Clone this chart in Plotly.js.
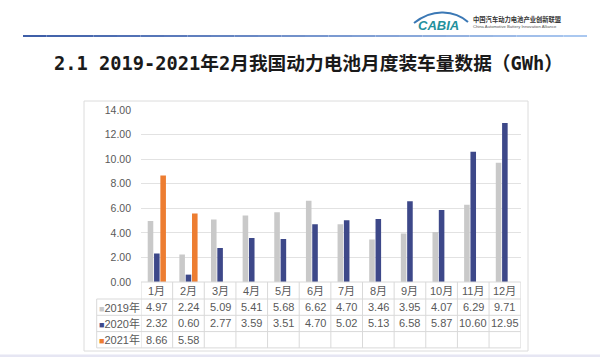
<!DOCTYPE html>
<html><head><meta charset="utf-8">
<script src="https://cdn.plot.ly/plotly-3.0.1.min.js"></script>
<style>html,body{margin:0;padding:0;background:#fff}#c{width:600px;height:357px}</style>
</head><body><div id="c"></div>
<script>
// ---- data ----
const months = ['1月','2月','3月','4月','5月','6月','7月','8月','9月','10月','11月','12月'];
const years = ['2019年','2020年','2021年'];
const v2019 = [4.97, 2.24, 5.09, 5.41, 5.68, 6.62, 4.70, 3.46, 3.95, 4.07, 6.29, 9.71];
const v2020 = [2.32, 0.60, 2.77, 3.59, 3.51, 4.70, 5.02, 5.13, 6.58, 5.87, 10.60, 12.95];
const v2021 = [8.66, 5.58, null, null, null, null, null, null, null, null, null, null];
const yTicks = [0, 2, 4, 6, 8, 10, 12, 14];
const titleText = '2.1 2019-2021年2月我国动力电池月度装车量数据（GWh）';

// ---- styling ----
const colors = ['#C9C9C9', '#3D4889', '#ED7D31'];
const W = 600, H = 357;
const px = x => x / W, py = y => 1 - y / H;
const fontTxt = 'Liberation Sans, Arial, Noto Sans CJK SC, sans-serif';
const grey = '#595959';
const gridCol = '#d9d9d9';
const series = [v2019, v2020, v2021];

const traces = series.map((v, i) => ({
  type: 'bar', x: months, y: v, name: years[i],
  marker: {color: colors[i]}, hoverinfo: 'skip'
}));

const shapes = [];
const annotations = [];

// ---- data table under the axis (drawn with shapes + annotations) ----
const tblLeft = 96.7, tblRight = 520.7, axisY = 282, headBot = 299, rowH = 16.3;
const rowLines = [headBot, headBot + rowH, headBot + 2 * rowH, headBot + 3 * rowH];
shapes.push({type: 'line', xref: 'paper', yref: 'paper', x0: px(141), x1: px(tblRight), y0: py(axisY), y1: py(axisY),
  line: {color: gridCol, width: 1}});
rowLines.forEach(y => shapes.push({type: 'line', xref: 'paper', yref: 'paper', x0: px(tblLeft), x1: px(tblRight),
  y0: py(y), y1: py(y), line: {color: gridCol, width: 1}}));
shapes.push({type: 'line', xref: 'paper', yref: 'paper', x0: px(tblLeft), x1: px(tblLeft), y0: py(headBot), y1: py(rowLines[3]),
  line: {color: gridCol, width: 1}});
for (let k = 0; k <= months.length; k++) {
  shapes.push({type: 'line', xref: 'x', yref: 'paper', x0: k - 0.5, x1: k - 0.5, y0: py(axisY), y1: py(rowLines[3]),
    line: {color: gridCol, width: 1}});
}
const cellFont = {family: fontTxt, size: 11, color: grey};
months.forEach(m => annotations.push({text: m, xref: 'x', yref: 'paper', x: m, y: py(290.5),
  xanchor: 'center', yanchor: 'middle', showarrow: false, font: cellFont}));
series.forEach((s, i) => {
  const yc = py(headBot + rowH * (i + 0.5));
  annotations.push({text: `<span style="color:${colors[i]};font-size:9px">■</span>${years[i]}`, xref: 'paper', yref: 'paper',
    x: px(119), y: yc, xanchor: 'center', yanchor: 'middle', showarrow: false, font: cellFont});
  months.forEach((m, j) => {
    if (s[j] == null) return;
    annotations.push({text: s[j].toFixed(2), xref: 'x', yref: 'paper', x: m, y: yc,
      xanchor: 'center', yanchor: 'middle', showarrow: false, font: cellFont});
  });
});

// gradient rule under header
const nSeg = 24, x0 = 23, x1 = 587;
const c0 = [63, 95, 168], c1 = [170, 200, 240];
for (let k = 0; k < nSeg; k++) {
  const t = k / (nSeg - 1);
  const c = c0.map((a, i) => Math.round(a + (c1[i] - a) * t));
  shapes.push({type: 'line', xref: 'paper', yref: 'paper',
    x0: px(x0 + (x1 - x0) * k / nSeg), x1: px(x0 + (x1 - x0) * (k + 1) / nSeg),
    y0: py(36), y1: py(36), line: {color: `rgb(${c.join(',')})`, width: 2}});
}
// chart frame
shapes.push({type: 'rect', xref: 'paper', yref: 'paper', x0: px(84), x1: px(528), y0: py(351), y1: py(101),
  line: {color: '#dcdcdc', width: 1}, fillcolor: 'rgba(0,0,0,0)', layer: 'below'});
// bottom band
shapes.push({type: 'rect', xref: 'paper', yref: 'paper', x0: 0, x1: 1, y0: 0, y1: py(354.5),
  line: {width: 0}, fillcolor: '#e6e6f3'});
// logo arc
shapes.push({type: 'path', xref: 'paper', yref: 'paper',
  path: `M ${px(414)} ${py(23)} Q ${px(428)} ${py(12)} ${px(443)} ${py(12.5)} Q ${px(458)} ${py(13)} ${px(468)} ${py(22)}`,
  line: {color: '#3b78b5', width: 2}});

annotations.push(
  {text: titleText, xref: 'paper', yref: 'paper', x: px(308), y: py(63), xanchor: 'center', yanchor: 'middle',
   showarrow: false, font: {family: 'DejaVu Sans Mono, Noto Sans CJK SC, monospace', size: 18.7, color: '#1a1a1a', weight: 'bold'}},
  {text: '<i><b>CABIA</b></i>', xref: 'paper', yref: 'paper', x: px(438), y: py(25.5), xanchor: 'center', yanchor: 'middle',
   showarrow: false, font: {family: 'Liberation Sans, Arial, sans-serif', size: 13, color: '#23909c'}},
  {text: '中国汽车动力电池产业创新联盟', xref: 'paper', yref: 'paper', x: px(471), y: py(19), xanchor: 'left', yanchor: 'middle',
   showarrow: false, font: {family: 'Noto Sans CJK SC, sans-serif', size: 6.3, color: '#333333', weight: 'bold'}},
  {text: 'China Automotive Battery Innovation Alliance', xref: 'paper', yref: 'paper', x: px(471), y: py(26.5), xanchor: 'left', yanchor: 'middle',
   showarrow: false, font: {family: 'Liberation Sans, Arial, sans-serif', size: 4.2, color: '#555555'}}
);

const layout = {
  width: W, height: H, margin: {l: 0, r: 0, t: 0, b: 0},
  paper_bgcolor: '#ffffff', plot_bgcolor: 'rgba(0,0,0,0)',
  showlegend: false, barmode: 'group', bargap: 0.4, bargroupgap: 0.12,
  xaxis: {domain: [px(141), px(tblRight)], type: 'category', categoryarray: months, range: [-0.5, months.length - 0.5],
    showticklabels: false, showgrid: false, showline: false, zeroline: false, ticks: '', fixedrange: true},
  yaxis: {domain: [py(axisY), py(110)], range: [0, 14], tickvals: yTicks, tickformat: '.2f',
    showgrid: true, gridcolor: '#e2e2e2', gridwidth: 1, zeroline: false, showline: false, ticks: '',
    ticklabelstandoff: 9, tickfont: {family: fontTxt, size: 10.5, color: grey}, fixedrange: true},
  shapes: shapes, annotations: annotations
};

Plotly.newPlot('c', traces, layout, {displayModeBar: false, staticPlot: true});
</script>
</body></html>
